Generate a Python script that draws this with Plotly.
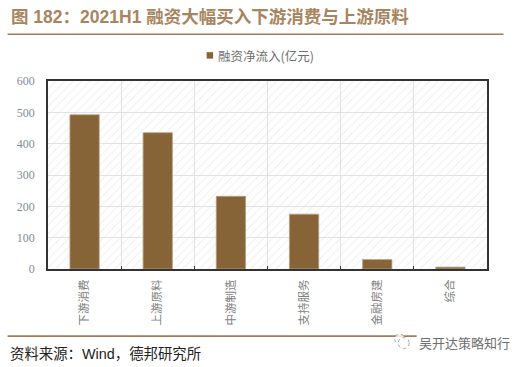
import plotly.graph_objects as go

categories = ["下游消费", "上游原料", "中游制造", "支持服务", "金融房建", "综合"]
values = [492, 435, 232, 175, 30, 6]
backdrop = [600] * 6
y_ticks = [0, 100, 200, 300, 400, 500, 600]
series_name = "融资净流入(亿元)"

W, H = 530, 367
L, R, T, B = 47.5, 487.5, 80.5, 269.5
CJK = "Noto Sans CJK SC"
MIXED = "Liberation Sans, Noto Sans CJK SC"
TITLE = "#A8845F"
BAR = "#866437"

def abs_x(x): return (x - L) / (R - L)
def abs_y(y): return (B - y) / (B - T)

fig = go.Figure()
fig.add_trace(go.Bar(
    x=categories, y=backdrop, width=1, showlegend=False, hoverinfo="skip",
    marker=dict(color="rgba(0,0,0,0)", line_width=0,
                pattern=dict(shape="/", fgcolor="#DEDEDE", bgcolor="rgba(255,255,255,0)",
                             size=6, solidity=0.18)),
))
fig.add_trace(go.Bar(
    x=categories, y=values, name=series_name, width=0.4, showlegend=False,
    marker=dict(color=BAR, line=dict(color="#B59E80", width=0.8)),
))

fig.update_layout(
    width=W, height=H, barmode="overlay", paper_bgcolor="white", plot_bgcolor="white",
    margin=dict(l=L, r=W - R, t=T, b=H - B, autoexpand=False),
    font=dict(family=CJK, color="#7F8790"),
    showlegend=False,
    xaxis=dict(type="category", tickangle=-90, tickson="boundaries", ticks="inside",
               ticklen=3, tickcolor="#333", showgrid=True, gridcolor="#E2E2E2", gridwidth=1.4,
               showline=True, linecolor="#333", linewidth=1.8, mirror=True,
               ticklabelstandoff=4,
               tickfont=dict(family=CJK, size=11.5, color="#7F7F7F")),
    yaxis=dict(range=[0, 600], tickvals=y_ticks, ticks="", showgrid=True,
               gridcolor="#E2E2E2", gridwidth=1.4, showline=True, linecolor="#333",
               linewidth=1.8, mirror=True, ticklabelstandoff=9,
               tickfont=dict(family="Liberation Serif", size=12, color="#7F8C9A")),
)

fig.add_shape(type="line", xref="paper", yref="paper", x0=abs_x(7), x1=abs_x(504),
              y0=abs_y(33.5), y1=abs_y(33.5), line=dict(color="#A27C5A", width=1.6))
fig.add_shape(type="line", xref="paper", yref="paper", x0=abs_x(7), x1=abs_x(417),
              y0=abs_y(337), y1=abs_y(337), line=dict(color="#A27C5A", width=1.6))
for cx, cy, r in [(400, 340, 5), (404, 344, 5.5)]:
    fig.add_shape(type="circle", xref="paper", yref="paper",
                  x0=abs_x(cx - r), x1=abs_x(cx + r), y0=abs_y(cy + r), y1=abs_y(cy - r),
                  line=dict(color="#8A8A8A", width=0.8, dash="dot"),
                  fillcolor="rgba(255,255,255,0.8)")
fig.add_shape(type="rect", xref="paper", yref="paper", x0=abs_x(206.5), x1=abs_x(213),
              y0=abs_y(58), y1=abs_y(51.5), fillcolor=BAR, line_width=0)

fig.add_annotation(xref="paper", yref="paper", x=abs_x(215.5), y=abs_y(55), xanchor="left",
                   yanchor="middle", showarrow=False, text=series_name,
                   font=dict(family=CJK, size=12.5, color="#6F6F6F"))
fig.add_annotation(xref="paper", yref="paper", x=abs_x(8), y=abs_y(16), xanchor="left",
                   yanchor="middle", showarrow=False,
                   text="<b>图 182：2021H1 融资大幅买入下游消费与上游原料</b>",
                   font=dict(family=MIXED, size=17.5, color=TITLE))
fig.add_annotation(xref="paper", yref="paper", x=abs_x(7), y=abs_y(355), xanchor="left",
                   yanchor="middle", showarrow=False, text="资料来源：Wind，德邦研究所",
                   font=dict(family=MIXED, size=14.4, color="#222222"))
fig.add_annotation(xref="paper", yref="paper", x=abs_x(417), y=abs_y(343), xanchor="left",
                   yanchor="middle", showarrow=False, text="吴开达策略知行",
                   font=dict(family=CJK, size=13, color="#6E6E6E"))

fig.write_html("out.html", config={"displayModeBar": False},
               post_script="document.body.style.margin='0';")
